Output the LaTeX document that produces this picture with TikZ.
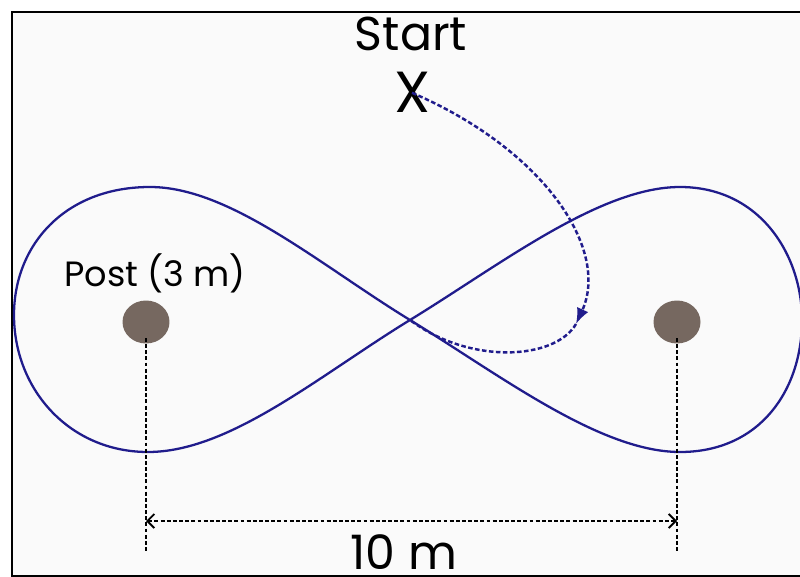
\documentclass[tikz,border=0pt]{standalone}
\usepackage{fontspec}
\setmainfont{Poppins}
\usetikzlibrary{arrows.meta,positioning,shapes.geometric}
\definecolor{track}{RGB}{32,28,140}
\definecolor{postcol}{RGB}{118,104,96}
\begin{document}
\begin{tikzpicture}[x=0.02cm, y=-0.02cm,
  post/.style={ellipse, fill=postcol, minimum width=0.94cm,
    minimum height=0.86cm, inner sep=0pt},
  route/.style={track, line width=1.3pt},
  walk/.style={track, line width=1.4pt, dash pattern=on 2.6pt off 1.4pt},
  dim/.style={black, line width=1.1pt, dash pattern=on 2.2pt off 1.3pt},
  lbl/.style={anchor=base, inner sep=0pt}
]
\useasboundingbox (0,0) rectangle (800,577);
\draw[line width=1.6pt, fill=black!2] (12,12) rectangle (815,576);

% figure eight around the posts
\coordinate (cross) at (410,320);
\draw[route] (cross) .. controls (500,265) and (600,187) .. (680,187)
  .. controls (760,187) and (802,255) .. (802,320)
  .. controls (802,390) and (760,452) .. (680,452)
  .. controls (600,452) and (500,375) .. (cross)
  .. controls (320,265) and (230,187) .. (150,187)
  .. controls (65,187) and (14,245) .. (14,315)
  .. controls (14,390) and (70,452) .. (148,452)
  .. controls (230,452) and (320,375) .. (cross);

\node[post] (lpost) at (146,322) {};
\node[post] (rpost) at (677,322) {};
\node[lbl, font=\fontsize{20}{24}\selectfont] (posttxt) at (155,286) {Post (3 m)};

\node[lbl, font=\fontsize{27}{32}\selectfont] (start) at (411,51) {Start};
\node[lbl, font=\fontsize{33}{38}\selectfont] (startx) at (412,113) {X};

% walk from start into the course
\coordinate (turn) at (576,324);
\draw[walk, -{Latex[length=9pt,width=7pt]}] (startx.center)
  .. controls (545,150) and (610,250) .. (turn);
\draw[walk] (turn) .. controls (555,360) and (470,365) .. (cross);

% distance between posts
\coordinate (lfoot) at (146,552);
\coordinate (rfoot) at (677,552);
\coordinate (ldim) at (146,521);
\coordinate (rdim) at (677,521);
\draw[dim] (lpost.center) ++(0,16) -- (lfoot);
\draw[dim] (rpost.center) ++(0,16) -- (rfoot);
\draw[dim, {Straight Barb[length=4pt]}-{Straight Barb[length=4pt]}] (ldim) -- (rdim);
\node[lbl, font=\fontsize{27}{32}\selectfont] (dist) at (404,569) {10 m};
\end{tikzpicture}
\end{document}
